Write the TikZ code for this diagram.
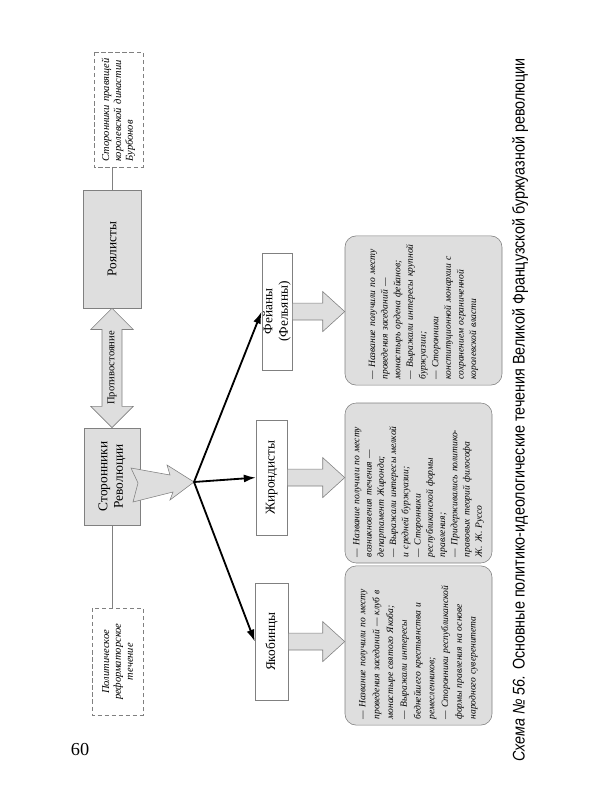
\documentclass[tikz,border=0pt]{standalone}
\usepackage{fontspec}
\setmainfont{Liberation Serif}
\newfontfamily\capfont[FakeStretch=0.85]{Liberation Sans}
\usetikzlibrary{arrows.meta,calc,positioning}

\definecolor{boxgray}{HTML}{DEDEDE}
\definecolor{linegray}{HTML}{808080}

\tikzset{
  mainbox/.style={draw=linegray, fill=boxgray, rotate=90, align=center, inner sep=2pt,
    font=\fontsize{9.5}{11}\selectfont},
  titlebox/.style={draw=linegray, fill=white, rotate=90, align=center, inner sep=1pt,
    font=\fontsize{9.5}{11}\selectfont},
  notebox/.style={draw=linegray, densely dashed, rotate=90, inner sep=3pt,
    font=\fontsize{7.5}{8.5}\selectfont\itshape},
  infobox/.style={draw=linegray, fill=boxgray, rounded corners=8pt, rotate=90, align=left,
    inner sep=4pt, font=\fontsize{6.8}{9}\selectfont\itshape},
  blockarrow/.style={draw=linegray, fill=boxgray, line join=miter},
  linkarrow/.style={-{Latex[length=3mm,width=2mm]}, line width=1.3pt},
}

\begin{document}
\begin{tikzpicture}
    \useasboundingbox (0,0) rectangle (15,-20);

    % Left column: royalists and revolution
    \node[notebox, align=left, minimum width=2.875cm, minimum height=1.225cm, text width=2.6cm]
        (bourbon) at (2.96,-2.74) {Сторонники правящей\\королевской династии\\Бурбонов};
    \node[mainbox, minimum width=2.95cm, minimum height=1.45cm] (royal) at (2.8,-6.225) {Роялисты};
    \node[mainbox, minimum width=2.425cm, minimum height=1.4cm] (revol) at (2.8,-11.91) {Сторонники\\Революции};
    \node[notebox, align=center, minimum width=2.675cm, minimum height=1.275cm]
        (reform) at (2.94,-16.54) {Политическое\\реформаторское\\течение};

    \draw[linegray] (royal.east) -- (royal.east |- bourbon.west);
    \draw[linegray] (revol.west) -- (revol.west |- reform.east);

    % Double arrow between the two camps
    \draw[blockarrow] (royal.west) -- ++(0.53,-0.53) -- ++(-0.28,0)
        -- ($(revol.east)+(0.25,0.53)$) -- ++(0.28,0) -- (revol.east)
        -- ++(-0.53,0.53) -- ++(0.28,0)
        -- ($(royal.west)+(-0.25,-0.53)$) -- ++(-0.28,0) -- cycle;
    \node[rotate=90, font=\fontsize{7.5}{9}\selectfont] (oppose)
        at ($(royal.west)!0.5!(revol.east)$) {Противостояние};

    % Arrow out of the revolution box
    \coordinate (hub) at (4.85,-12.05);
    \draw[blockarrow] (hub) -- ($(hub)+(-0.675,0.425)$) -- ($(hub)+(-0.6,0.175)$)
        -- ($(hub)+(-1.575,0.35)$) -- ($(hub)+(-1.4,-0.025)$) -- ($(hub)+(-1.525,-0.5)$)
        -- ($(hub)+(-0.525,-0.25)$) -- ($(hub)+(-0.6,-0.45)$) -- cycle;

    % The three currents
    \node[titlebox, minimum width=2.925cm, minimum height=0.75cm] (feuill) at (6.925,-7.79) {Фейаны\\(Фельяны)};
    \node[titlebox, minimum width=2.875cm, minimum height=0.775cm] (giron) at (6.79,-11.94) {Жирондисты};
    \node[titlebox, minimum width=2.925cm, minimum height=0.825cm] (jacob) at (6.79,-16.04) {Якобинцы};

    \foreach \party in {feuill, giron, jacob}
        \draw[linkarrow] (hub) -- (\party.north);

    % Descriptions
    \node[infobox, minimum width=3.725cm, minimum height=3.925cm, text width=3.45cm]
        (feuilltxt) at (10.5875,-7.7625)
        {— Название получили по месту\\проведения заседаний —\\монастырь ордена фейанов;\\— Выражали интересы крупной\\буржуазии;\\— Сторонники\\конституционной монархии с\\сохранением ограниченной\\королевской власти};
    \node[infobox, font=\fontsize{6.8}{8.7}\selectfont\itshape, minimum width=4.0cm, minimum height=3.675cm, text width=3.7cm]
        (girontxt) at (10.4625,-12.075)
        {— Название получили по месту\\возникновения течения —\\департамент Жиронда;\\— Выражали интересы мелкой\\и средней буржуазии;\\— Сторонники\\республиканской формы\\правления;\\— Придерживались политико-\\правовых теорий философа\\Ж. Ж. Руссо};
    \node[infobox, font=\fontsize{6.8}{9.8}\selectfont\itshape, minimum width=3.975cm, minimum height=3.675cm, text width=3.7cm]
        (jacobtxt) at (10.4625,-16.1375)
        {— Название получили по месту\\проведения заседаний — клуб в\\монастыре святого Якоба;\\— Выражали интересы\\беднейшего крестьянства и\\ремесленников;\\— Сторонники республиканской\\формы правления на основе\\народного суверенитета};

    \foreach \from/\to in {feuill/feuilltxt, giron/girontxt, jacob/jacobtxt}
        \draw[blockarrow] ($(\from.south)+(0,0.21)$) -- ($(\from.south -| \to.north)+(-0.55,0.21)$)
            -- ++(0,0.29) -- (\from.south -| \to.north) -- ++(-0.55,-0.5) -- ++(0,0.29)
            -- ($(\from.south)+(0,-0.21)$) -- cycle;

    % Caption and page number
    \node[rotate=90, font=\capfont\fontsize{12}{14}\selectfont] (caption) at (13.0,-10.25)
        {\textit{Схема №~56.} Основные политико-идеологические течения Великой Французской буржуазной революции};
    \node[font=\fontsize{13}{15}\selectfont] (page) at (2.0,-18.75) {60};
\end{tikzpicture}
\end{document}
